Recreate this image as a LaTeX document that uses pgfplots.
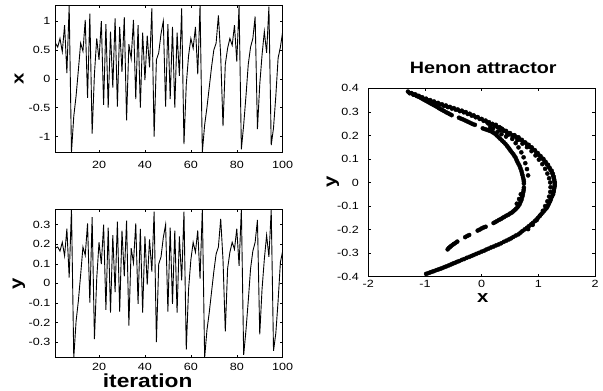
\documentclass[border=0pt]{standalone}
\usepackage{fontspec}
\setmainfont{Liberation Sans}[FakeStretch=1.2]
\usepackage{pgfplots}
\usepackage{pgfplotstable}
\pgfplotsset{compat=1.18}

\pgfplotstableread{
i x y
1 0.62 0.180
2 0.55 0.186
3 0.70 0.165
4 0.47 0.210
5 0.93 0.141
6 0.10 0.279
7 1.27 0.030
8 -1.27 0.381
9 -0.65 -0.381
10 -0.30 -0.195
11 0.15 -0.090
12 0.62 0.045
13 0.48 0.186
14 1.02 0.144
15 -0.33 0.306
16 1.13 -0.099
17 -0.95 0.339
18 0.08 -0.285
19 0.70 0.024
20 0.33 0.210
21 1.00 0.099
22 -0.45 0.300
23 0.95 -0.135
24 -0.50 0.285
25 0.82 -0.150
26 -0.15 0.246
27 1.05 -0.045
28 -0.48 0.315
29 0.90 -0.144
30 0.12 0.270
31 1.07 0.036
32 -0.72 0.321
33 0.60 -0.216
34 0.35 0.180
35 1.02 0.105
36 -0.35 0.306
37 0.93 -0.105
38 -0.50 0.279
39 0.80 -0.150
40 -0.02 0.240
41 0.75 -0.006
42 0.20 0.225
43 1.22 0.060
44 -1.00 0.366
45 0.33 -0.300
46 0.45 0.099
47 0.78 0.135
48 1.00 0.234
49 -0.48 0.300
50 0.95 -0.144
51 -0.35 0.285
52 0.90 -0.105
53 -0.50 0.270
54 0.80 -0.150
55 0.05 0.240
56 1.22 0.015
57 -1.13 0.366
58 -0.10 -0.339
59 0.40 -0.030
60 0.70 0.120
61 0.53 0.210
62 0.90 0.159
63 0.08 0.270
64 1.27 0.024
65 -1.27 0.381
66 -0.80 -0.381
67 -0.50 -0.240
68 -0.15 -0.150
69 0.20 -0.045
70 0.50 0.060
71 0.62 0.150
72 1.10 0.186
73 0.40 0.330
74 -0.82 0.120
75 0.25 -0.246
76 0.53 0.075
77 0.70 0.159
78 0.58 0.210
79 0.93 0.174
80 0.30 0.279
81 1.27 0.090
82 -1.22 0.381
83 -0.80 -0.366
84 -0.30 -0.240
85 0.25 -0.090
86 0.55 0.075
87 0.70 0.165
88 1.08 0.210
89 -0.87 0.324
90 -0.10 -0.261
91 0.41 -0.030
92 0.82 0.123
93 0.45 0.246
94 1.25 0.135
95 -1.15 0.375
96 -0.85 -0.345
97 -0.30 -0.255
98 0.36 -0.090
99 0.55 0.108
100 0.82 0.165
}\series

\pgfplotstableread{
x y
-1.30 0.386
-1.24 0.380
-1.17 0.374
-1.11 0.368
-1.05 0.362
-0.98 0.356
-0.91 0.350
-0.84 0.344
-0.77 0.338
-0.70 0.332
-0.63 0.327
-0.56 0.321
-0.49 0.316
-0.42 0.310
-0.35 0.305
-0.28 0.299
-0.21 0.292
-0.14 0.285
-0.07 0.278
0.00 0.270
0.07 0.263
0.13 0.256
0.19 0.249
0.25 0.242
0.31 0.235
0.36 0.228
0.43 0.219
0.50 0.210
0.58 0.201
0.65 0.192
0.71 0.181
0.77 0.170
0.83 0.160
0.885 0.149
0.94 0.137
0.99 0.125
1.04 0.112
1.09 0.100
1.13 0.087
1.17 0.075
1.20 0.062
1.235 0.050
1.255 0.037
1.27 0.025
1.28 0.012
1.29 0.000
1.29 -0.012
1.28 -0.025
1.27 -0.037
1.26 -0.050
1.23 -0.064
1.21 -0.078
1.18 -0.093
1.15 -0.107
1.10 -0.121
1.05 -0.135
0.995 -0.150
0.94 -0.164
0.87 -0.178
0.80 -0.192
0.72 -0.206
0.65 -0.220
0.56 -0.231
0.48 -0.242
0.39 -0.252
0.30 -0.263
0.21 -0.272
0.12 -0.281
0.04 -0.290
-0.05 -0.299
-0.14 -0.308
-0.22 -0.316
-0.31 -0.325
-0.40 -0.334
-0.47 -0.341
-0.54 -0.348
-0.62 -0.356
-0.69 -0.363
-0.76 -0.369
-0.84 -0.376
-0.91 -0.382
-0.98 -0.388
-1.27 0.379
-1.205 0.373
-1.14 0.367
-1.08 0.361
-1.015 0.355
-0.945 0.349
-0.875 0.343
-0.805 0.337
-0.735 0.331
-0.665 0.325
-0.595 0.320
-0.525 0.314
-0.455 0.309
-0.385 0.303
-0.315 0.298
-0.245 0.291
-0.175 0.284
-0.105 0.277
-0.035 0.270
0.035 0.262
0.10 0.255
0.16 0.248
0.22 0.241
0.28 0.234
0.335 0.227
0.395 0.219
0.465 0.210
0.54 0.201
0.615 0.192
0.68 0.182
0.74 0.171
0.80 0.161
0.857 0.150
0.912 0.139
0.965 0.127
1.015 0.115
1.065 0.102
1.11 0.090
1.15 0.077
1.185 0.065
1.217 0.052
1.245 0.040
1.262 0.028
1.275 0.016
1.285 0.004
1.29 -0.006
1.285 -0.018
1.275 -0.031
1.265 -0.043
1.245 -0.057
1.22 -0.071
1.195 -0.085
1.165 -0.100
1.125 -0.114
1.075 -0.128
1.022 -0.143
0.967 -0.157
0.905 -0.171
0.835 -0.185
0.76 -0.199
0.685 -0.213
0.605 -0.225
0.52 -0.237
0.435 -0.247
0.345 -0.258
0.255 -0.267
0.165 -0.276
0.08 -0.285
-0.005 -0.294
-0.095 -0.303
-0.18 -0.312
-0.265 -0.320
-0.355 -0.329
-0.435 -0.337
-0.505 -0.344
-0.58 -0.352
-0.655 -0.359
-0.725 -0.366
-0.80 -0.372
-0.875 -0.379
-0.945 -0.385
0.33 0.222
0.45 0.207
0.55 0.193
0.63 0.180
0.72 0.165
0.80 0.150
0.88 0.133
0.95 0.115
1.01 0.097
1.07 0.078
1.12 0.058
1.16 0.038
1.19 0.018
1.21 0.000
1.215 -0.020
1.21 -0.040
1.19 -0.060
1.16 -0.080
1.12 -0.100
1.08 -0.120
1.03 -0.140
0.97 -0.160
0.90 -0.180
0.82 -0.198
-1.20 0.374
-1.14 0.368
-1.08 0.361
-1.02 0.352
-0.96 0.344
-0.90 0.336
-0.84 0.328
-0.78 0.320
-0.72 0.311
-0.66 0.303
-0.59 0.294
-0.53 0.286
-0.40 0.275
-0.33 0.268
-0.26 0.260
-0.19 0.252
-0.12 0.245
0.02 0.230
0.09 0.224
0.16 0.218
0.23 0.208
0.30 0.192
0.36 0.178
0.42 0.164
0.47 0.149
0.51 0.135
0.56 0.120
0.60 0.105
0.63 0.088
0.67 0.070
0.70 0.050
0.72 0.032
0.74 0.012
0.745 -0.005
0.745 -0.022
0.735 -0.040
0.72 -0.058
0.70 -0.075
0.67 -0.092
0.63 -0.106
0.58 -0.118
0.53 -0.128
0.47 -0.137
0.40 -0.146
0.34 -0.155
0.27 -0.164
0.21 -0.172
0.07 -0.188
0.00 -0.195
-0.07 -0.204
-0.22 -0.223
-0.29 -0.232
-0.43 -0.251
-0.49 -0.261
-0.54 -0.270
-0.58 -0.278
-0.60 -0.284
-1.17 0.371
-1.11 0.364
-1.05 0.356
-0.99 0.348
-0.93 0.340
-0.87 0.332
-0.81 0.324
-0.75 0.315
-0.69 0.307
-0.625 0.298
-0.56 0.290
-0.365 0.271
-0.295 0.264
-0.225 0.256
-0.155 0.248
0.055 0.227
0.125 0.221
0.195 0.213
0.265 0.200
0.33 0.185
0.39 0.171
0.445 0.156
0.49 0.142
0.535 0.127
0.58 0.112
0.615 0.096
0.65 0.079
0.685 0.060
0.71 0.041
0.73 0.022
0.745 0.003
0.742 -0.031
0.728 -0.049
0.71 -0.066
0.685 -0.083
0.65 -0.099
0.605 -0.112
0.555 -0.123
0.50 -0.132
0.435 -0.141
0.37 -0.150
0.305 -0.159
0.24 -0.168
0.035 -0.191
-0.035 -0.200
-0.255 -0.227
-0.46 -0.256
-0.515 -0.265
-0.56 -0.274
0.25 0.245
0.33 0.232
0.40 0.220
0.47 0.203
0.54 0.185
0.60 0.167
0.65 0.149
0.70 0.128
0.74 0.107
0.77 0.082
0.80 0.057
0.82 0.030
0.15 0.235
0.20 0.228
0.28 0.215
0.35 0.205
0.43 0.195
0.12 0.250
0.69 -0.050
0.66 -0.070
0.62 -0.090
}\attractor

\tikzset{labfont/.style={font=\fontsize{17}{17}\selectfont\bfseries}}
\pgfplotsset{
  mystyle/.style={
    scale only axis, anchor=south west,
    axis line style={black, line width=0.7pt},
    tick style={black, line width=0.5pt},
    tick align=inside, major tick length=3bp,
    tick label style={font=\fontsize{10.5}{11}\selectfont},
    /pgf/number format/assume math mode=true,
    axis on top,
  },
}

\begin{document}
\begin{tikzpicture}
\path[use as bounding box] (0bp,0bp) rectangle (603bp,391bp);

% top-left: x vs iteration
\begin{axis}[mystyle, at={(55.4bp,238.3bp)}, width=227.3bp, height=147.7bp,
  xmin=1, xmax=100, ymin=-1.28, ymax=1.28,
  xtick={20,40,60,80,100}, ytick={-1,-0.5,0,0.5,1},
  xticklabel style={yshift=-5bp}, yticklabel style={xshift=-1.5bp},
  ylabel={x}, ylabel style={labfont, at={(axis description cs:-0.16,0.5)}, anchor=center}]
\addplot[black, line width=0.9pt] table[x=i, y=x] {\series};
\end{axis}

% bottom-left: y vs iteration
\begin{axis}[mystyle, at={(55.4bp,33.3bp)}, width=227.3bp, height=148.7bp,
  xmin=1, xmax=100, ymin=-0.38, ymax=0.38,
  xtick={20,40,60,80,100}, ytick={-0.3,-0.2,-0.1,0,0.1,0.2,0.3},
  yticklabel style={/pgf/number format/fixed, /pgf/number format/precision=1, xshift=-1.5bp},
  xticklabel style={yshift=-1.5bp},
  xlabel={iteration}, xlabel style={font=\fontsize{19}{19}\selectfont\bfseries, at={(axis description cs:0.406,-0.155)}, anchor=center},
  ylabel={y}, ylabel style={labfont, at={(axis description cs:-0.16,0.496)}, anchor=center}]
\addplot[black, line width=0.9pt] table[x=i, y=y] {\series};
\end{axis}

% right: Henon attractor
\begin{axis}[mystyle, at={(368.3bp,114.3bp)}, width=226.7bp, height=188.4bp,
  xmin=-2, xmax=2, ymin=-0.4, ymax=0.4,
  xtick={-2,-1,0,1,2}, ytick={-0.4,-0.3,-0.2,-0.1,0,0.1,0.2,0.3,0.4},
  yticklabel style={/pgf/number format/fixed, /pgf/number format/precision=1, xshift=-6bp},
  title={Henon attractor}, title style={font=\fontsize{16.5}{17}\selectfont\bfseries, at={(axis description cs:0.507,1.075)}, anchor=center},
  xlabel={x}, xlabel style={labfont, at={(axis description cs:0.505,-0.115)}, anchor=center},
  ylabel={y}, ylabel style={labfont, at={(axis description cs:-0.156,0.503)}, anchor=center}]
\addplot[only marks, mark=*, mark size=2.05pt, black] table[x=x, y=y] {\attractor};
\end{axis}
\end{tikzpicture}
\end{document}
